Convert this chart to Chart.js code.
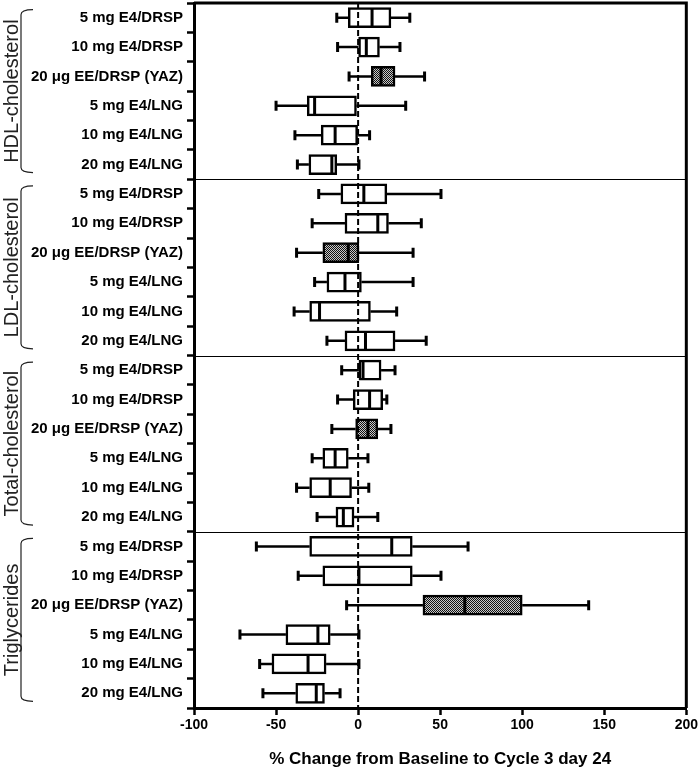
<!DOCTYPE html>
<html>
<head>
<meta charset="utf-8">
<script src="https://cdn.jsdelivr.net/npm/chart.js@4"></script>
<style>
  body { margin: 0; background: #fff; }
  canvas { display: block; }
</style>
</head>
<body>
<canvas id="chart" width="700" height="768"></canvas>
<script>
const FONT = '"Liberation Sans", Arial, sans-serif';

const groups = ["HDL-cholesterol", "LDL-cholesterol", "Total-cholesterol", "Triglycerides"];
const treatments = [
  "5 mg E4/DRSP",
  "10 mg E4/DRSP",
  "20 μg EE/DRSP (YAZ)",
  "5 mg E4/LNG",
  "10 mg E4/LNG",
  "20 mg E4/LNG"
];
const xTicks = [-100, -50, 0, 50, 100, 150, 200];

// one entry per row, top to bottom (HDL, LDL, Total, TG; 6 treatments each)
const whiskerLow = [
  -13, -12.5, -5.5, -50, -38.5, -37,
  -24, -28, -37.5, -26.5, -39, -19,
  -10, -12.5, -16, -28, -37.5, -25,
  -62, -36.5, -7, -72, -60, -58
];
const q1 = [
  -6, 0, 8, -31, -22.5, -30,
  -10.5, -8, -21.5, -19, -29.5, -8,
  0.5, -3, -1.5, -21.5, -29.5, -13.5,
  -29.5, -21.5, 39.5, -44, -52.5, -38
];
const median = [
  8.5, 5, 14, -26.5, -14, -16,
  3.5, 12, -6, -8, -23.5, 4.5,
  3, 7, 6, -14, -17, -9,
  20.5, 0.5, 65, -24.5, -30.5, -25.5
];
const q3 = [
  20, 13, 22.5, -1, 0, -13,
  17.5, 18.5, 0.5, 2, 7.5, 22.5,
  14, 15, 12, -6, -4, -2.5,
  33, 33, 100, -17, -19.5, -20.5
];
const whiskerHigh = [
  31.5, 25.5, 40.5, 29, 7, 0.5,
  50.5, 38.5, 33.5, 33.5, 23.5, 41.5,
  22.5, 17.5, 20, 6, 6.5, 12,
  67, 50.5, 140.5, 0.5, 0.5, -11
];

const labels = groups.flatMap(() => treatments);
const isYaz = i => treatments[i % treatments.length].includes("YAZ");

function makePattern() {
  const c = document.createElement("canvas");
  c.width = 2; c.height = 2;
  const g = c.getContext("2d");
  g.fillStyle = "#c8c8c8";
  g.fillRect(0, 0, 2, 2);
  g.fillStyle = "#111";
  g.fillRect(0, 0, 1, 1);
  g.fillRect(1, 1, 1, 1);
  return g.createPattern(c, "repeat");
}
const hatch = makePattern();

const boxPlugin = {
  id: "boxExtras",
  afterDatasetsDraw(chart) {
    const { ctx, chartArea: a, scales: { x, y } } = chart;
    ctx.save();

    // group separators
    ctx.strokeStyle = "#000";
    ctx.lineWidth = 1;
    for (let g = 1; g < groups.length; g++) {
      const yy = Math.round((y.getPixelForValue(g * 6 - 1) + y.getPixelForValue(g * 6)) / 2) + 0.5;
      ctx.beginPath();
      ctx.moveTo(a.left, yy);
      ctx.lineTo(a.right, yy);
      ctx.stroke();
    }

    // zero line
    const x0 = x.getPixelForValue(0);
    ctx.setLineDash([6, 3]);
    ctx.lineWidth = 2;
    ctx.beginPath();
    ctx.moveTo(x0, a.top);
    ctx.lineTo(x0, a.bottom);
    ctx.stroke();
    ctx.setLineDash([]);

    // whiskers and medians
    labels.forEach((_, i) => {
      const yy = y.getPixelForValue(i);
      const lo = x.getPixelForValue(whiskerLow[i]);
      const hi = x.getPixelForValue(whiskerHigh[i]);
      const b1 = x.getPixelForValue(q1[i]);
      const b3 = x.getPixelForValue(q3[i]);
      const m = x.getPixelForValue(median[i]);
      ctx.lineWidth = 2.5;
      ctx.beginPath();
      ctx.moveTo(lo, yy); ctx.lineTo(b1, yy);
      ctx.moveTo(b3, yy); ctx.lineTo(hi, yy);
      ctx.stroke();
      ctx.lineWidth = 3;
      ctx.beginPath();
      ctx.moveTo(lo, yy - 5); ctx.lineTo(lo, yy + 5);
      ctx.moveTo(hi, yy - 5); ctx.lineTo(hi, yy + 5);
      ctx.moveTo(m, yy - 9); ctx.lineTo(m, yy + 9);
      ctx.stroke();
    });

    // frame top/right
    ctx.lineWidth = 3;
    ctx.beginPath();
    ctx.moveTo(a.left, a.top);
    ctx.lineTo(a.right, a.top);
    ctx.lineTo(a.right, a.bottom);
    ctx.stroke();

    // group titles with brackets
    ctx.lineWidth = 1.2;
    ctx.strokeStyle = "#222";
    ctx.fillStyle = "#222";
    ctx.font = "20px " + FONT;
    ctx.textAlign = "center";
    ctx.textBaseline = "middle";
    groups.forEach((name, g) => {
      const y1 = y.getPixelForValue(g * 6) - 8;
      const y2 = y.getPixelForValue(g * 6 + 5) + 8;
      ctx.beginPath();
      ctx.moveTo(33, y1);
      ctx.quadraticCurveTo(21, y1, 21, y1 + 5);
      ctx.lineTo(21, y2 - 5);
      ctx.quadraticCurveTo(21, y2, 33, y2);
      ctx.stroke();
      ctx.save();
      ctx.translate(11, (y1 + y2) / 2);
      ctx.rotate(-Math.PI / 2);
      ctx.fillText(name, 0, 1);
      ctx.restore();
    });

    ctx.restore();
  }
};

new Chart(document.getElementById("chart"), {
  type: "bar",
  data: {
    labels: labels,
    datasets: [{
      data: labels.map((_, i) => [q1[i], q3[i]]),
      backgroundColor: c => isYaz(c.dataIndex) ? hatch : "#fff",
      borderColor: "#000",
      borderWidth: 2.5,
      borderSkipped: false,
      barThickness: 20
    }]
  },
  options: {
    indexAxis: "y",
    responsive: false,
    animation: false,
    devicePixelRatio: 1,
    layout: { padding: { top: 3, right: 13, left: 0, bottom: 0 } },
    plugins: { legend: { display: false }, tooltip: { enabled: false } },
    scales: {
      x: {
        type: "linear",
        min: -100,
        max: 200,
        afterBuildTicks: s => { s.ticks = xTicks.map(v => ({ value: v })); },
        afterFit: s => { s.height = 60; },
        grid: { drawOnChartArea: false, tickLength: 7, tickWidth: 2.5, color: "#000" },
        border: { color: "#000", width: 3 },
        ticks: { color: "#000", padding: 2, font: { family: FONT, size: 14, weight: "bold" } },
        title: {
          display: true,
          text: "% Change from Baseline to Cycle 3 day 24",
          color: "#000",
          padding: { top: 0, bottom: 0 },
          font: { family: FONT, size: 17, weight: "bold", lineHeight: 1 }
        }
      },
      y: {
        type: "category",
        afterFit: s => { s.width = 194; s.paddingTop = 0; s.paddingBottom = 0; },
        grid: { drawOnChartArea: false, tickLength: 7, tickWidth: 2.5, color: "#000" },
        border: { color: "#000", width: 3 },
        ticks: { color: "#000", autoSkip: false, padding: 4, font: { family: FONT, size: 15, weight: "bold" } }
      }
    }
  },
  plugins: [boxPlugin]
});
</script>
</body>
</html>
